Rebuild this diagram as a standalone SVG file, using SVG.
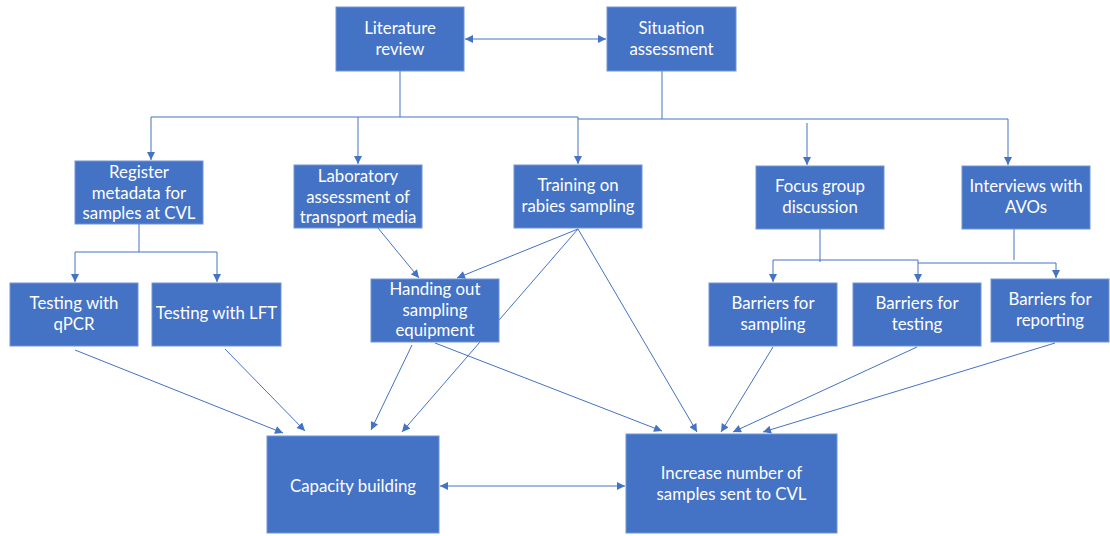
<svg xmlns="http://www.w3.org/2000/svg" width="1110" height="536" viewBox="0 0 1110 536">
<style>
.box{fill:#4472C4;stroke:#7095D6;stroke-width:1}
.t{fill:#FFFFFF;font-family:Lato,"Open Sans","Liberation Sans",sans-serif;font-size:16.8px;text-anchor:middle}
.c{fill:none;stroke:#4472C4;stroke-width:1}
</style>
<defs>
<marker id="ah" viewBox="0 0 10 10" refX="10" refY="5" markerWidth="9" markerHeight="8" markerUnits="userSpaceOnUse" orient="auto-start-reverse">
<path d="M0,0 L10,5 L0,10 z" fill="#4472C4"/>
</marker>
</defs>
<rect width="1110" height="536" fill="#FFFFFF"/>
<g id="connectors">
<path class="c" d="M465,39 L606,39" marker-start="url(#ah)" marker-end="url(#ah)"/>
<path class="c" d="M400,71 L400,117 L151,117 L151,160" marker-end="url(#ah)"/>
<path class="c" d="M358,117 L358,164" marker-end="url(#ah)"/>
<path class="c" d="M400,117 L578,117 L578,164" marker-end="url(#ah)"/>
<path class="c" d="M662,71 L662,119 L578,119"/>
<path class="c" d="M662,119 L1008,119 L1008,165" marker-end="url(#ah)"/>
<path class="c" d="M807,123 L807,165" marker-end="url(#ah)"/>
<path class="c" d="M139,224 L139,252"/>
<path class="c" d="M75,252 L75,282" marker-end="url(#ah)"/>
<path class="c" d="M75,252 L217,252 L217,282" marker-end="url(#ah)"/>
<path class="c" d="M820,229 L820,262"/>
<path class="c" d="M773,260 L918,260"/>
<path class="c" d="M773,260 L773,282" marker-end="url(#ah)"/>
<path class="c" d="M918,260 L918,282" marker-end="url(#ah)"/>
<path class="c" d="M1014,229 L1014,260"/>
<path class="c" d="M918,263 L1056,263 L1056,278" marker-end="url(#ah)"/>
<path class="c" d="M378,228 L419,278" marker-end="url(#ah)"/>
<path class="c" d="M578,229 L457,278" marker-end="url(#ah)"/>
<path class="c" d="M578,229 L402,432" marker-end="url(#ah)"/>
<path class="c" d="M578,229 L697,432" marker-end="url(#ah)"/>
<path class="c" d="M412,345 L371,430" marker-end="url(#ah)"/>
<path class="c" d="M435,343 L662,431" marker-end="url(#ah)"/>
<path class="c" d="M75,350 L283,433" marker-end="url(#ah)"/>
<path class="c" d="M225,349 L305,431" marker-end="url(#ah)"/>
<path class="c" d="M773,347 L721,432" marker-end="url(#ah)"/>
<path class="c" d="M917,347 L733,432" marker-end="url(#ah)"/>
<path class="c" d="M1055,343 L763,432" marker-end="url(#ah)"/>
<path class="c" d="M440,486 L625,486" marker-start="url(#ah)" marker-end="url(#ah)"/>
</g>
<g id="literature-review"><rect class="box" x="336" y="7" width="128" height="64"/><text class="t" x="400" y="34">Literature</text><text class="t" x="400" y="54.5">review</text></g>
<g id="situation-assessment"><rect class="box" x="607" y="7" width="129" height="64"/><text class="t" x="671.5" y="34">Situation</text><text class="t" x="671.5" y="54.5">assessment</text></g>
<g id="register-metadata"><rect class="box" x="75" y="161" width="128" height="63"/><text class="t" x="139" y="178">Register</text><text class="t" x="139" y="198.5">metadata for</text><text class="t" x="139" y="219">samples at CVL</text></g>
<g id="laboratory-assessment"><rect class="box" x="294" y="165" width="128" height="63"/><text class="t" x="358" y="182">Laboratory</text><text class="t" x="358" y="202.5">assessment of</text><text class="t" x="358" y="223">transport media</text></g>
<g id="training"><rect class="box" x="514" y="165" width="128" height="63"/><text class="t" x="578" y="191">Training on</text><text class="t" x="578" y="211.5">rabies sampling</text></g>
<g id="focus-group"><rect class="box" x="756" y="166" width="128" height="63"/><text class="t" x="820" y="192">Focus group</text><text class="t" x="820" y="212.5">discussion</text></g>
<g id="interviews"><rect class="box" x="962" y="166" width="128" height="63"/><text class="t" x="1026" y="192">Interviews with</text><text class="t" x="1026" y="212.5">AVOs</text></g>
<g id="testing-qpcr"><rect class="box" x="10" y="283" width="128" height="63"/><text class="t" x="74" y="309">Testing with</text><text class="t" x="74" y="329.5">qPCR</text></g>
<g id="testing-lft"><rect class="box" x="152" y="283" width="129" height="63"/><text class="t" x="216.5" y="319">Testing with LFT</text></g>
<g id="handing-out"><rect class="box" x="371" y="279" width="128" height="63"/><text class="t" x="435" y="295">Handing out</text><text class="t" x="435" y="315.5">sampling</text><text class="t" x="435" y="336">equipment</text></g>
<g id="barriers-sampling"><rect class="box" x="709" y="283" width="128" height="63"/><text class="t" x="773" y="309">Barriers for</text><text class="t" x="773" y="329.5">sampling</text></g>
<g id="barriers-testing"><rect class="box" x="853" y="283" width="128" height="63"/><text class="t" x="917" y="309">Barriers for</text><text class="t" x="917" y="329.5">testing</text></g>
<g id="barriers-reporting"><rect class="box" x="991" y="279" width="118" height="63"/><text class="t" x="1050" y="305">Barriers for</text><text class="t" x="1050" y="325.5">reporting</text></g>
<g id="capacity-building"><rect class="box" x="267" y="436" width="172" height="97"/><text class="t" x="353" y="492">Capacity building</text></g>
<g id="increase-samples"><rect class="box" x="626" y="434" width="211" height="99"/><text class="t" x="731.5" y="479">Increase number of</text><text class="t" x="731.5" y="499.5">samples sent to CVL</text></g>
</svg>
